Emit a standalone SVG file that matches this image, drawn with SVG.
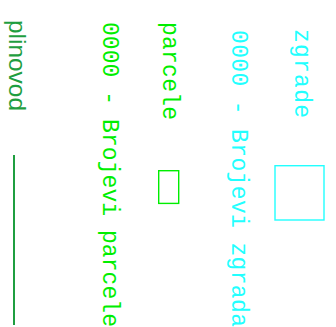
<svg xmlns="http://www.w3.org/2000/svg" width="336" height="327" viewBox="0 0 336 327">
<style>
text{font-family:"Liberation Mono","DejaVu Sans Mono",monospace;font-size:23px}
.cy{fill:#22ffff}
.gr{fill:#00ee00}
.pl{fill:#1f9e40;font-family:"Liberation Sans",Arial,sans-serif;font-size:24px}
.rc{fill:none;stroke:#22ffff;stroke-width:1.4}
.rg{fill:none;stroke:#00ee00;stroke-width:1.4}
</style>
<rect width="336" height="327" fill="#fff"/>
<g id="zgrade">
<text class="cy" transform="translate(295,29) rotate(90)" textLength="89" lengthAdjust="spacing">zgrade</text>
<text class="cy" transform="translate(232,30) rotate(90)" textLength="297" lengthAdjust="spacing">0000 - Brojevi zgrada</text>
<rect class="rc" x="275" y="165.7" width="49" height="54.3"/>
</g>
<g id="parcele">
<text class="gr" transform="translate(163,22) rotate(90)" textLength="98" lengthAdjust="spacing">parcele</text>
<text class="gr" transform="translate(103,22) rotate(90)" textLength="305" lengthAdjust="spacing">0000 - Brojevi parcele</text>
<rect class="rg" x="158.7" y="170.7" width="20" height="32.7"/>
</g>
<g id="plinovod">
<text class="pl" transform="translate(9,20) rotate(90)" textLength="91" lengthAdjust="spacingAndGlyphs">plinovod</text>
</g>
<g id="connectors">
<line x1="14" y1="155" x2="14" y2="325" stroke="#1f9e40" stroke-width="2"/>
</g>
</svg>
